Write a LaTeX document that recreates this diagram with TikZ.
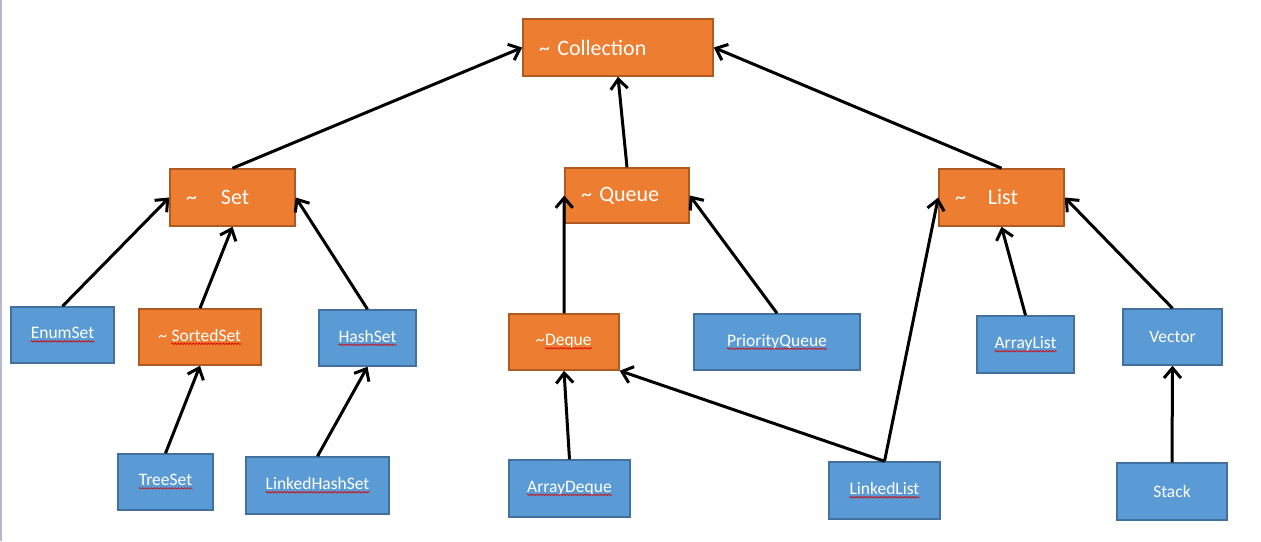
\documentclass[tikz,border=0pt]{standalone}
\usepackage{fontspec}
\setmainfont{Carlito}
\usetikzlibrary{arrows.meta, decorations.pathmorphing}

\definecolor{ifacefill}{HTML}{ED7D31}
\definecolor{ifaceline}{HTML}{AE5A21}
\definecolor{classfill}{HTML}{5B9BD5}
\definecolor{classline}{HTML}{41719C}
\definecolor{edgegray}{RGB}{185,185,205}

% red spell-check squiggle under a class name
\newcommand{\spell}[1]{\tikz[baseline=(w.base)]{\node[inner sep=0pt, minimum width=0pt, minimum height=0pt,
    draw=none, fill=none, text=white] (w) {#1};
  \draw[red!85!black, line width=0.6pt, decorate, decoration={snake, amplitude=0.8pt, segment length=3pt}]
    ([yshift=-2.5pt]w.base west) -- ([yshift=-2.5pt]w.base east);}}

\begin{document}
\begin{tikzpicture}[x=1pt, y=-1pt,
    iface/.style={fill=ifacefill, draw=ifaceline, line width=1.5pt, text=white,
      font=\fontsize{22}{26}\selectfont, align=left, inner xsep=16pt, inner ysep=0pt,
      minimum height=56pt},
    smalliface/.style={fill=ifacefill, draw=ifaceline, line width=1.5pt, text=white,
      font=\fontsize{17.5}{21}\selectfont, inner sep=0pt, minimum height=56pt},
    cls/.style={fill=classfill, draw=classline, line width=1.5pt, text=white,
      font=\fontsize{17.5}{21}\selectfont, inner sep=0pt, minimum height=56pt},
    inh/.style={-{Straight Barb[length=10pt, width=17pt]}, line width=3pt, black}]

    \useasboundingbox (0,0) rectangle (1261,541);
    \draw[edgegray, line width=1.5pt] (0.75,0) -- (0.75,541);

    % Top: Collection
    \node[iface, text width=158pt, minimum width=190pt, minimum height=57pt] (coll) at (618,47.5) {\textasciitilde\ Collection};

    % Second row: Set, Queue, List
    \node[iface, text width=93pt, minimum width=125pt, minimum height=57pt] (set) at (232.5,197.5) {\textasciitilde\hspace{24pt}Set};
    \node[iface, text width=92pt, minimum width=124pt, minimum height=55pt] (queue) at (627,195.5) {\textasciitilde\ Queue};
    \node[iface, text width=93pt, minimum width=125pt, minimum height=57pt] (list) at (1001.5,197.5) {\textasciitilde\hspace{22pt}List};

    % Third row
    \node[cls, minimum width=103pt] (enumset) at (62.5,335) {\spell{EnumSet}};
    \node[smalliface, minimum width=122pt] (sortedset) at (200,337) {\textasciitilde\ \spell{SortedSet}};
    \node[cls, minimum width=97pt] (hashset) at (367.5,338) {\spell{HashSet}};
    \node[smalliface, minimum width=110pt] (deque) at (564,342) {\textasciitilde\spell{Deque}};
    \node[cls, minimum width=166pt] (prioqueue) at (777,342) {\spell{PriorityQueue}};
    \node[cls, minimum width=97pt, minimum height=57pt] (arraylist) at (1025.5,344.5) {\spell{ArrayList}};
    \node[cls, minimum width=99pt] (vector) at (1172.5,337) {Vector};

    % Bottom row
    \node[cls, minimum width=95pt] (treeset) at (165.5,482) {\spell{TreeSet}};
    \node[cls, minimum width=143pt, minimum height=57pt] (linkedhashset) at (317.5,485.5) {\spell{LinkedHashSet}};
    \node[cls, minimum width=121pt, minimum height=57pt] (arraydeque) at (569.5,488.5) {\spell{ArrayDeque}};
    \node[cls, minimum width=111pt, minimum height=57pt] (linkedlist) at (884.5,490.5) {\spell{LinkedList}};
    \node[cls, minimum width=110pt, minimum height=57pt] (stack) at (1172,491.5) {Stack};

    % Arrows to Collection
    \draw[inh] (set.north) -- (coll.west);
    \draw[inh] (queue.north) -- (coll.south);
    \draw[inh] (list.north) -- (coll.east);

    % Set family
    \draw[inh] (enumset.north) -- (set.west);
    \draw[inh] (sortedset.north) -- (set.south);
    \draw[inh] (hashset.north) -- (set.east);
    \draw[inh] (treeset.north) -- (sortedset.south);
    \draw[inh] (linkedhashset.north) -- (hashset.south);

    % Queue family
    \draw[inh] (deque.north) -- (queue.west);
    \draw[inh] (prioqueue.north) -- (queue.east);
    \draw[inh] (arraydeque.north) -- (deque.south);
    \draw[inh] (linkedlist.north) -- (deque.south east);

    % List family
    \draw[inh] (linkedlist.north) -- (list.west);
    \draw[inh] (arraylist.north) -- (list.south);
    \draw[inh] (vector.north) -- (list.east);
    \draw[inh] (stack.north) -- (vector.south);

\end{tikzpicture}
\end{document}
